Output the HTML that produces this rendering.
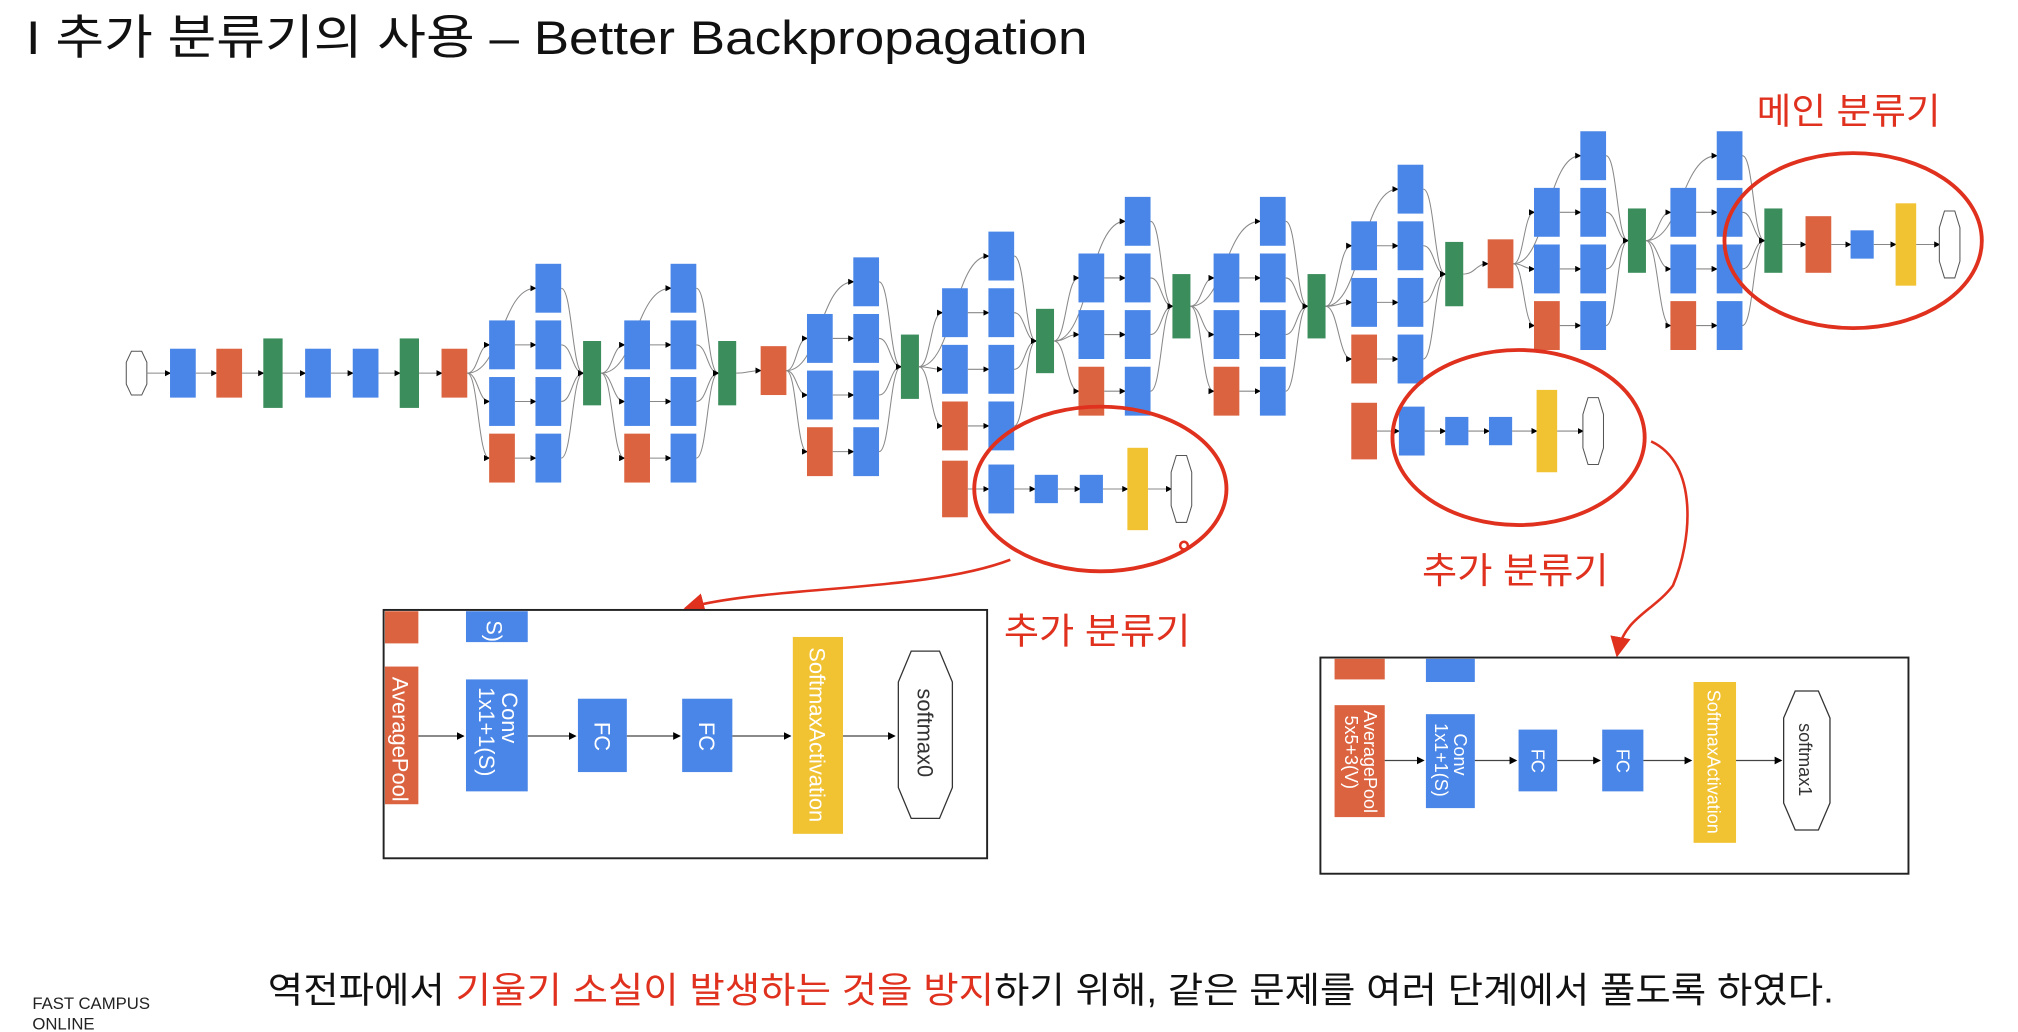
<!DOCTYPE html>
<html><head><meta charset="utf-8">
<style>
html,body{margin:0;padding:0;background:#fff;}
svg{display:block;}
text{font-family:"Liberation Sans","Noto Sans CJK KR",sans-serif;}
</style></head>
<body>
<svg id="s" width="2018" height="1032" viewBox="0 0 1568 802" xmlns="http://www.w3.org/2000/svg">
<defs>
<marker id="ah" markerWidth="6" markerHeight="6" refX="5" refY="3" orient="auto"><path d="M0,0 L6,3 L0,6 z" fill="#000"/></marker>
<marker id="rah" markerWidth="8" markerHeight="8" refX="6" refY="4" orient="auto"><path d="M0,0 L8,4 L0,8 z" fill="#e0301e"/></marker>
</defs>
<text x="20" y="42" font-size="37" fill="#111" textLength="825" lengthAdjust="spacingAndGlyphs">I 추가 분류기의 사용 – Better Backpropagation</text>
<g id="net"></g>

<!-- red annotations -->
<ellipse cx="855" cy="380" rx="98" ry="64" fill="none" stroke="#e0301e" stroke-width="3"/>
<ellipse cx="1180" cy="340" rx="98" ry="68" fill="none" stroke="#e0301e" stroke-width="3"/>
<ellipse cx="1440" cy="187" rx="100" ry="68" fill="none" stroke="#e0301e" stroke-width="3"/>
<circle cx="920" cy="424" r="3" fill="none" stroke="#e0301e" stroke-width="2"/>
<path d="M785,435 C720,460 600,455 535,472" fill="none" stroke="#e0301e" stroke-width="2" marker-end="url(#rah)"/>
<path d="M1283,343 C1320,360 1315,420 1300,455 C1285,475 1262,480 1257,507" fill="none" stroke="#e0301e" stroke-width="2" marker-end="url(#rah)"/>
<text x="1365" y="96" font-size="28" fill="#e0301e" textLength="143" lengthAdjust="spacingAndGlyphs">메인 분류기</text>
<text x="1105" y="453" font-size="28" fill="#e0301e" textLength="145" lengthAdjust="spacingAndGlyphs">추가 분류기</text>
<text x="780" y="500" font-size="28" fill="#e0301e" textLength="145" lengthAdjust="spacingAndGlyphs">추가 분류기</text>

<!-- inset left -->
<g>
<rect x="298" y="474" width="469" height="193" fill="#fff" stroke="#222" stroke-width="1.5"/>
<rect x="299" y="475" width="26" height="25" fill="#dc6340"/>
<rect x="362" y="475" width="48" height="24" fill="#4a86e8"/>
<text transform="translate(378,482) rotate(90)" font-size="17" fill="#fff">S)</text>
<rect x="299" y="518" width="26" height="107" fill="#dc6340"/>
<text transform="translate(305,526) rotate(90)" font-size="17" fill="#fff">AveragePool</text>
<line x1="325" y1="572" x2="360" y2="572" stroke="#444" marker-end="url(#ah)"/>
<rect x="362" y="528" width="48" height="87" fill="#4a86e8"/>
<text transform="translate(390,538) rotate(90)" font-size="17" fill="#fff">Conv</text>
<text transform="translate(372,534) rotate(90)" font-size="17" fill="#fff">1x1+1(S)</text>
<line x1="410" y1="572" x2="447" y2="572" stroke="#444" marker-end="url(#ah)"/>
<rect x="449" y="543" width="38" height="57" fill="#4a86e8"/>
<text transform="translate(462,561) rotate(90)" font-size="17" fill="#fff">FC</text>
<line x1="487" y1="572" x2="528" y2="572" stroke="#444" marker-end="url(#ah)"/>
<rect x="530" y="543" width="39" height="57" fill="#4a86e8"/>
<text transform="translate(543,561) rotate(90)" font-size="17" fill="#fff">FC</text>
<line x1="569" y1="572" x2="614" y2="572" stroke="#444" marker-end="url(#ah)"/>
<rect x="616" y="495" width="39" height="153" fill="#f1c232"/>
<text transform="translate(629,503) rotate(90)" font-size="17" fill="#fff">SoftmaxActivation</text>
<line x1="655" y1="572" x2="695" y2="572" stroke="#444" marker-end="url(#ah)"/>
<polygon points="708,506 730,506 740,530 740,612 730,636 708,636 698,612 698,530" fill="#fff" stroke="#333"/>
<text transform="translate(713,535) rotate(90)" font-size="17" fill="#333">softmax0</text>
</g>
<!-- inset right -->
<g>
<rect x="1026" y="511" width="457" height="168" fill="#fff" stroke="#222" stroke-width="1.5"/>
<rect x="1037" y="512" width="39" height="16" fill="#dc6340"/>
<rect x="1108" y="512" width="38" height="18" fill="#4a86e8"/>
<rect x="1037" y="548" width="39" height="87" fill="#dc6340"/>
<text transform="translate(1060,552) rotate(90)" font-size="14" fill="#fff">AveragePool</text>
<text transform="translate(1045,556) rotate(90)" font-size="14" fill="#fff">5x5+3(V)</text>
<line x1="1076" y1="591" x2="1106" y2="591" stroke="#444" marker-end="url(#ah)"/>
<rect x="1108" y="555" width="38" height="73" fill="#4a86e8"/>
<text transform="translate(1130,570) rotate(90)" font-size="14" fill="#fff">Conv</text>
<text transform="translate(1115,562) rotate(90)" font-size="14" fill="#fff">1x1+1(S)</text>
<line x1="1146" y1="591" x2="1178" y2="591" stroke="#444" marker-end="url(#ah)"/>
<rect x="1180" y="567" width="30" height="48" fill="#4a86e8"/>
<text transform="translate(1190,582) rotate(90)" font-size="14" fill="#fff">FC</text>
<line x1="1210" y1="591" x2="1243" y2="591" stroke="#444" marker-end="url(#ah)"/>
<rect x="1245" y="567" width="32" height="48" fill="#4a86e8"/>
<text transform="translate(1256,582) rotate(90)" font-size="14" fill="#fff">FC</text>
<line x1="1277" y1="591" x2="1314" y2="591" stroke="#444" marker-end="url(#ah)"/>
<rect x="1316" y="530" width="33" height="125" fill="#f1c232"/>
<text transform="translate(1327,536) rotate(90)" font-size="14" fill="#fff">SoftmaxActivation</text>
<line x1="1349" y1="591" x2="1384" y2="591" stroke="#444" marker-end="url(#ah)"/>
<polygon points="1395,537 1413,537 1422,558 1422,624 1413,645 1395,645 1386,624 1386,558" fill="#fff" stroke="#333"/>
<text transform="translate(1398,562) rotate(90)" font-size="14" fill="#333">softmax1</text>
</g>

<text x="25" y="784" font-size="13" fill="#222">FAST CAMPUS</text>
<text x="25" y="800" font-size="13" fill="#222">ONLINE</text>
<text x="208" y="779" font-size="28" fill="#111" textLength="1217" lengthAdjust="spacingAndGlyphs">역전파에서 <tspan fill="#e0301e">기울기 소실이 발생하는 것을 방지</tspan>하기 위해, 같은 문제를 여러 단계에서 풀도록 하였다.</text>
</svg>
<script>
// stem nodes: x, y, type
const stemX = [142,178,212,247,284,318,353];
const stemT = ['c','m','g','c','c','g','m'];
const stemY = 290;
// inception modules: col1 x, concat center y
const incX = [390,495,637,742,848,953,1060,1202,1308];
const incY = [290,290,285,265,238,238,213,187,187];
const mpX = [601,1166];
const mpY = [288,205];

const C={c:'#4a86e8',m:'#dc6340',g:'#3b8d5c',y:'#f1c232'};
const net=document.getElementById('net');
const NS='http://www.w3.org/2000/svg';
function rect(x,y,w,h,t){
  const r=document.createElementNS(NS,'rect');
  r.setAttribute('x',x-w/2);r.setAttribute('y',y-h/2);r.setAttribute('width',w);r.setAttribute('height',h);r.setAttribute('fill',C[t]);
  
  
  net.appendChild(r);
}
function line(x1,y1,x2,y2){
  const l=document.createElementNS(NS,'path');
  const mx=(x1+x2)/2;
  l.setAttribute('d',`M${x1},${y1} C${mx},${y1} ${mx},${y2} ${x2},${y2}`);
  l.setAttribute('fill','none');l.setAttribute('stroke','#888');l.setAttribute('stroke-width','0.8');
  l.setAttribute('marker-end','url(#ah)');
  
  
  net.appendChild(l);
}
function hex(x,y,w,h){
  const p=document.createElementNS(NS,'polygon');
  const a=w/2,b=h/2;
  p.setAttribute('points',`${x-a*0.5},${y-b} ${x+a*0.5},${y-b} ${x+a},${y-b*0.5} ${x+a},${y+b*0.5} ${x+a*0.5},${y+b} ${x-a*0.5},${y+b} ${x-a},${y+b*0.5} ${x-a},${y-b*0.5}`);
  p.setAttribute('fill','#fff');p.setAttribute('stroke','#555');p.setAttribute('stroke-width','0.8');
  
  
  net.appendChild(p);
}
hex(106,stemY,16,34);
let prevX=106+8, prevY=stemY;
stemX.forEach((x,i)=>{
  const h=stemT[i]==='g'?54:38, w=stemT[i]==='g'?15:20;
  line(prevX,prevY,x-w/2,stemY);
  rect(x,stemY,w,h,stemT[i]);prevX=x+w/2;prevY=stemY;
});
incX.forEach((x,i)=>{
  const yc=incY[i], x2=x+36, xc=x+70;
  const rows=[yc-66,yc-22,yc+22,yc+66];
  line(prevX,prevY,x2-10,rows[0]);
  for(let r=1;r<4;r++){
    line(prevX,prevY,x-10,rows[r]);
    rect(x,rows[r],20,38,r===3?'m':'c');
    line(x+10,rows[r],x2-10,rows[r]);
  }
  for(let r=0;r<4;r++){rect(x2,rows[r],20,38,'c');line(x2+10,rows[r],xc-7,yc);}
  rect(xc,yc,14,50,'g');
  prevX=xc+7;prevY=yc;
  const k=[1,6].indexOf(i);
  if(k>=0){line(prevX,prevY,mpX[k]-10,mpY[k]);rect(mpX[k],mpY[k],20,38,'m');prevX=mpX[k]+10;prevY=mpY[k];}
});
// aux classifiers and main head
const headX=[[742,778,813,848,884,918],[1060,1097,1132,1166,1202,1238],[1413,1413,1447,1447,1481,1515]];
const headY=[380,335,190];
headY.forEach((y,i)=>{
  const xs=headX[i];
  if(i<2){rect(xs[0],y,20,44,'m');line(xs[0]+10,y,xs[1]-10,y);rect(xs[1],y,20,38,'c');line(xs[1]+10,y,xs[2]-9,y);}
  else{line(1385,y,xs[0]-10,y);rect(xs[0],y,20,44,'m');line(xs[0]+10,y,xs[2]-9,y);}
  rect(xs[2],y,18,22,'c');
  if(i<2){line(xs[2]+9,y,xs[3]-9,y);rect(xs[3],y,18,22,'c');}
  line(xs[3]+9,y,xs[4]-8,y);
  rect(xs[4],y,16,64,'y');
  line(xs[4]+8,y,xs[5]-8,y);
  hex(xs[5],y,16,52);
});
</script>
</body></html>
